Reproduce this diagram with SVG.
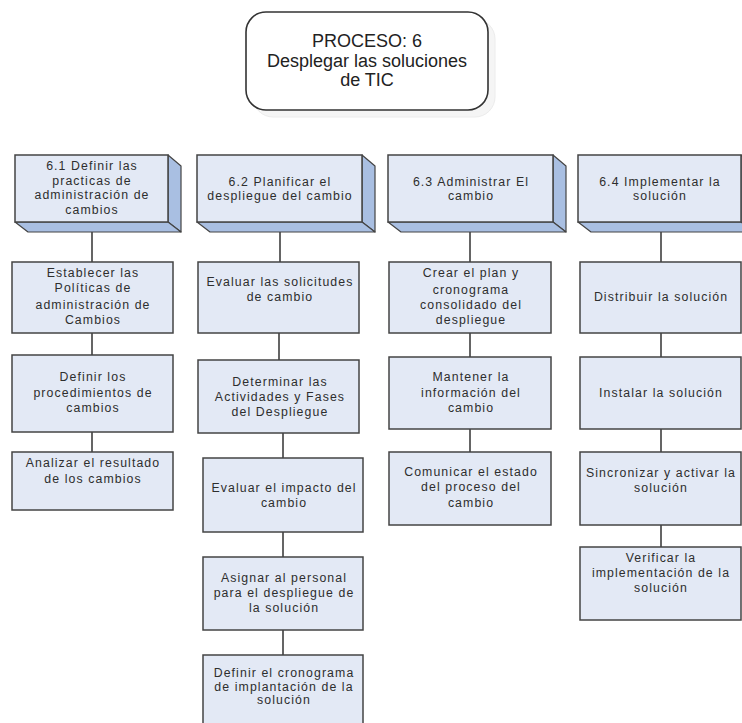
<svg xmlns="http://www.w3.org/2000/svg" width="742" height="723" viewBox="0 0 742 723">
<defs>
<style>
.t{font-family:"Liberation Sans",Arial,sans-serif;font-size:12.3px;letter-spacing:1.1px;fill:#2e2e2e;text-anchor:middle}
.title{font-family:"Liberation Sans",Arial,sans-serif;font-size:18px;fill:#222;text-anchor:middle}
.box{fill:#e3e9f5;stroke:#444;stroke-width:1.5}
.side{fill:#a9bfe2;stroke:#444;stroke-width:1.2;stroke-linejoin:round}
.conn{stroke:#333;stroke-width:1.5;fill:none}
</style>
</defs>
<rect width="742" height="723" fill="#ffffff"/>
<g id="title">
<rect x="253" y="19" width="242" height="98" rx="20" fill="#f5f5f5" stroke="#ececec"/>
<rect x="246" y="12" width="242" height="98" rx="20" fill="#ffffff" stroke="#333" stroke-width="1.6"/>
<text class="title" x="367" y="47">PROCESO: 6</text>
<text class="title" x="367" y="67">Desplegar las soluciones</text>
<text class="title" x="367" y="86">de TIC</text>
</g>
<g id="connectors">
<path class="conn" d="M92 223V262M92 333V355M92 432V452"/>
<path class="conn" d="M280 223V262M279 333V360M283 433V458M283 532V557M283 630V655"/>
<path class="conn" d="M470 223V262M470 333V357M470 429V452"/>
<path class="conn" d="M661 223V262M661 333V357M661 429V452M661 525V547"/>
</g>
<g id="n61">
<polygon class="side" points="168,155 181,166 181,232 168,222"/>
<polygon class="side" points="15,222 168,222 181,232 28,232"/>
<rect class="box" x="15" y="155" width="153" height="67"/>
<text class="t" x="92" y="170">6.1 Definir las</text>
<text class="t" x="92" y="185">practicas de</text>
<text class="t" x="92" y="199">administración de</text>
<text class="t" x="92" y="214">cambios</text>
</g>
<g id="n62">
<polygon class="side" points="362,155 375,166 375,232 362,222"/>
<polygon class="side" points="197,222 362,222 375,232 210,232"/>
<rect class="box" x="197" y="155" width="165" height="67"/>
<text class="t" x="280" y="186">6.2 Planificar el</text>
<text class="t" x="280" y="200">despliegue del cambio</text>
</g>
<g id="n63">
<polygon class="side" points="553,155 566,166 566,232 553,222"/>
<polygon class="side" points="388,222 553,222 566,232 401,232"/>
<rect class="box" x="388" y="155" width="165" height="67"/>
<text class="t" x="471" y="186">6.3 Administrar El</text>
<text class="t" x="471" y="200">cambio</text>
</g>
<g id="n64">
<polygon class="side" points="741,155 754,166 754,232 741,222"/>
<polygon class="side" points="578,222 741,222 754,232 591,232"/>
<rect class="box" x="578" y="155" width="163" height="67"/>
<text class="t" x="660" y="186">6.4 Implementar la</text>
<text class="t" x="660" y="200">solución</text>
</g>
<g id="c1a"><rect class="box" x="12" y="262" width="161" height="71"/>
<text class="t" x="93" y="277">Establecer las</text>
<text class="t" x="93" y="292">Políticas de</text>
<text class="t" x="93" y="309">administración de</text>
<text class="t" x="93" y="324">Cambios</text></g>
<g id="c1b"><rect class="box" x="12" y="355" width="161" height="77"/>
<text class="t" x="93" y="381">Definir los</text>
<text class="t" x="93" y="397">procedimientos de</text>
<text class="t" x="93" y="412">cambios</text></g>
<g id="c1c"><rect class="box" x="12" y="452" width="161" height="58"/>
<text class="t" x="93" y="467">Analizar el resultado</text>
<text class="t" x="93" y="483">de los cambios</text></g>
<g id="c2a"><rect class="box" x="198" y="262" width="161" height="71"/>
<text class="t" x="280" y="286">Evaluar las solicitudes</text>
<text class="t" x="280" y="301">de cambio</text></g>
<g id="c2b"><rect class="box" x="198" y="360" width="161" height="73"/>
<text class="t" x="280" y="386">Determinar las</text>
<text class="t" x="280" y="401">Actividades y Fases</text>
<text class="t" x="280" y="416">del Despliegue</text></g>
<g id="c2c"><rect class="box" x="203" y="458" width="160" height="74"/>
<text class="t" x="284" y="492">Evaluar el impacto del</text>
<text class="t" x="284" y="507">cambio</text></g>
<g id="c2d"><rect class="box" x="203" y="557" width="160" height="73"/>
<text class="t" x="284" y="582">Asignar al personal</text>
<text class="t" x="284" y="597">para el despliegue de</text>
<text class="t" x="284" y="612">la solución</text></g>
<g id="c2e"><rect class="box" x="203" y="655" width="160" height="75"/>
<text class="t" x="284" y="677">Definir el cronograma</text>
<text class="t" x="284" y="691">de implantación de la</text>
<text class="t" x="284" y="704">solución</text></g>
<g id="c3a"><rect class="box" x="389" y="262" width="162" height="71"/>
<text class="t" x="471" y="277">Crear el plan y</text>
<text class="t" x="471" y="294">cronograma</text>
<text class="t" x="471" y="309">consolidado del</text>
<text class="t" x="471" y="324">despliegue</text></g>
<g id="c3b"><rect class="box" x="389" y="357" width="162" height="72"/>
<text class="t" x="471" y="381">Mantener la</text>
<text class="t" x="471" y="397">información del</text>
<text class="t" x="471" y="412">cambio</text></g>
<g id="c3c"><rect class="box" x="389" y="452" width="162" height="73"/>
<text class="t" x="471" y="476">Comunicar el estado</text>
<text class="t" x="471" y="491">del proceso del</text>
<text class="t" x="471" y="507">cambio</text></g>
<g id="c4a"><rect class="box" x="580" y="262" width="161" height="71"/>
<text class="t" x="661" y="301">Distribuir la solución</text></g>
<g id="c4b"><rect class="box" x="580" y="357" width="161" height="72"/>
<text class="t" x="661" y="397">Instalar la solución</text></g>
<g id="c4c"><rect class="box" x="580" y="452" width="161" height="73"/>
<text class="t" x="661" y="477">Sincronizar y activar la</text>
<text class="t" x="661" y="492">solución</text></g>
<g id="c4d"><rect class="box" x="580" y="547" width="161" height="73"/>
<text class="t" x="661" y="562">Verificar la</text>
<text class="t" x="661" y="577">implementación de la</text>
<text class="t" x="661" y="592">solución</text></g>
</svg>
